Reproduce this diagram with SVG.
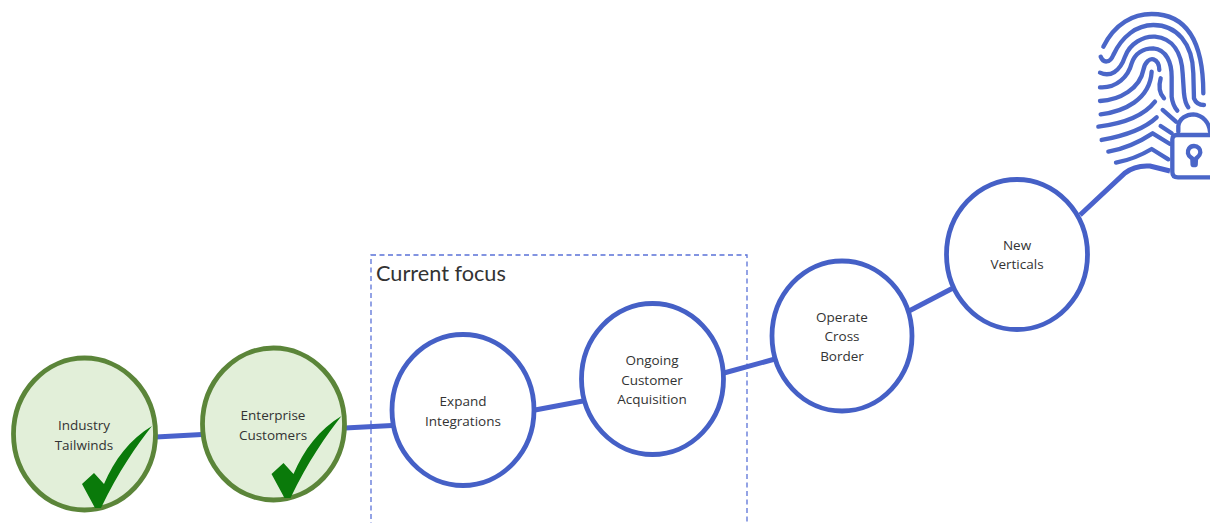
<svg xmlns="http://www.w3.org/2000/svg" width="1210" height="523" viewBox="0 0 1210 523">
<style>
.n{fill:#fff;stroke:#4560c6;stroke-width:4.800}
.g{fill:#e2efd9;stroke:#5b8539;stroke-width:4.800}
.c{stroke:#4a62cc;stroke-width:5;fill:none}
.t{font-family:"Open Sans","Liberation Sans",sans-serif;font-size:13.500px;fill:#333;text-anchor:middle}
.f{fill:none;stroke:#4a66c8;stroke-width:13;stroke-linecap:round;stroke-linejoin:round}
.k{fill:#0a7a0a}
</style>
<rect width="1210" height="523" fill="#fff"/>
<rect id="focus-box" x="371" y="255" width="376" height="300" fill="none" stroke="#5a72d8" stroke-width="1.300" stroke-dasharray="5 3.500"/>
<text x="376" y="281" font-family="Lato,'Noto Sans',sans-serif" font-size="21.700" fill="#333">Current focus</text>
<g id="connectors">
<path class="c" d="M156 437L202 434.500"/>
<path class="c" d="M345 428L392 425.500"/>
<path class="c" d="M535 410L583 401"/>
<path class="c" d="M724 373L775 359"/>
<path class="c" d="M909 311L955 287"/>
<path class="c" d="M1080 215L1125 173Q1135 165 1150 166L1170 171"/>
</g>
<g id="n1"><ellipse class="g" cx="84.500" cy="434" rx="71" ry="76"/><text class="t" x="84" y="430">Industry</text><text class="t" x="84" y="450">Tailwinds</text><path class="k" d="M82 484L94 473L104 484C114 460 130 439 152 426C137 445 118 472 101 508H95Z"/></g>
<g id="n2"><ellipse class="g" cx="273.500" cy="424" rx="71" ry="76"/><text class="t" x="273" y="420">Enterprise</text><text class="t" x="273" y="440">Customers</text><path class="k" d="M271.500 474L283.500 463L293.500 474C303.500 450 319.500 429 341.500 416C326.500 435 307.500 462 290.500 498H284.500Z"/></g>
<g id="n3"><ellipse class="n" cx="463" cy="410" rx="71" ry="75.500"/><text class="t" x="463" y="406">Expand</text><text class="t" x="463" y="426">Integrations</text></g>
<g id="n4"><ellipse class="n" cx="652.500" cy="379" rx="71" ry="75.500"/><text class="t" x="652" y="365">Ongoing</text><text class="t" x="652" y="385">Customer</text><text class="t" x="652" y="404">Acquisition</text></g>
<g id="n5"><ellipse class="n" cx="842" cy="336" rx="70" ry="75"/><text class="t" x="842" y="322">Operate</text><text class="t" x="842" y="341">Cross</text><text class="t" x="842" y="361">Border</text></g>
<g id="n6"><ellipse class="n" cx="1017" cy="254.500" rx="70.500" ry="75"/><text class="t" x="1017" y="250">New</text><text class="t" x="1017" y="269">Verticals</text></g>
<g id="fingerprint" transform="translate(1060 0) scale(.3333)">
<path class="f" d="M130 140C165 70 220 42 275 42C370 42 430 110 430 280"/>
<path class="f" d="M122 170C130 190 150 190 160 165C185 110 230 75 280 75C350 75 398 130 400 220L402 295Q410 315 432 315"/>
<path class="f" d="M120 218C150 232 180 215 195 170C210 130 250 108 285 110C340 115 365 160 368 220L372 280Q375 310 385 322"/>
<path class="f" d="M120 262C170 265 205 230 215 190C225 160 250 145 280 145C320 148 335 190 335 230L335 290Q338 315 352 332"/>
<path class="f" d="M120 303C180 300 240 265 250 210C255 185 270 175 280 178Q298 185 298 210"/>
<path class="f" d="M122 343C190 335 270 300 275 215"/>
<path class="f" d="M302 235C295 260 298 280 312 295"/>
<path class="f" d="M115 380C180 372 250 350 285 305"/>
<path class="f" d="M125 420C190 408 250 390 290 352"/>
<path class="f" d="M145 455C200 445 240 425 278 400L330 432"/>
<path class="f" d="M168 488C210 480 245 465 275 447L325 478"/>
<path class="f" d="M308 330L348 365"/>
<path class="f" d="M302 378L335 400"/>
<path class="f" d="M355 395V378C358 355 380 343 400 343C430 345 448 370 450 395"/>
<path class="f" d="M460 405H350Q337 405 337 418V515Q337 532 354 532H460"/>
<path class="f" d="M402 438C388 438 382 450 384 460C386 470 394 472 397 476L398 495H407L408 476C412 472 420 468 421 458C422 448 414 438 402 438Z"/>
</g>
</svg>
